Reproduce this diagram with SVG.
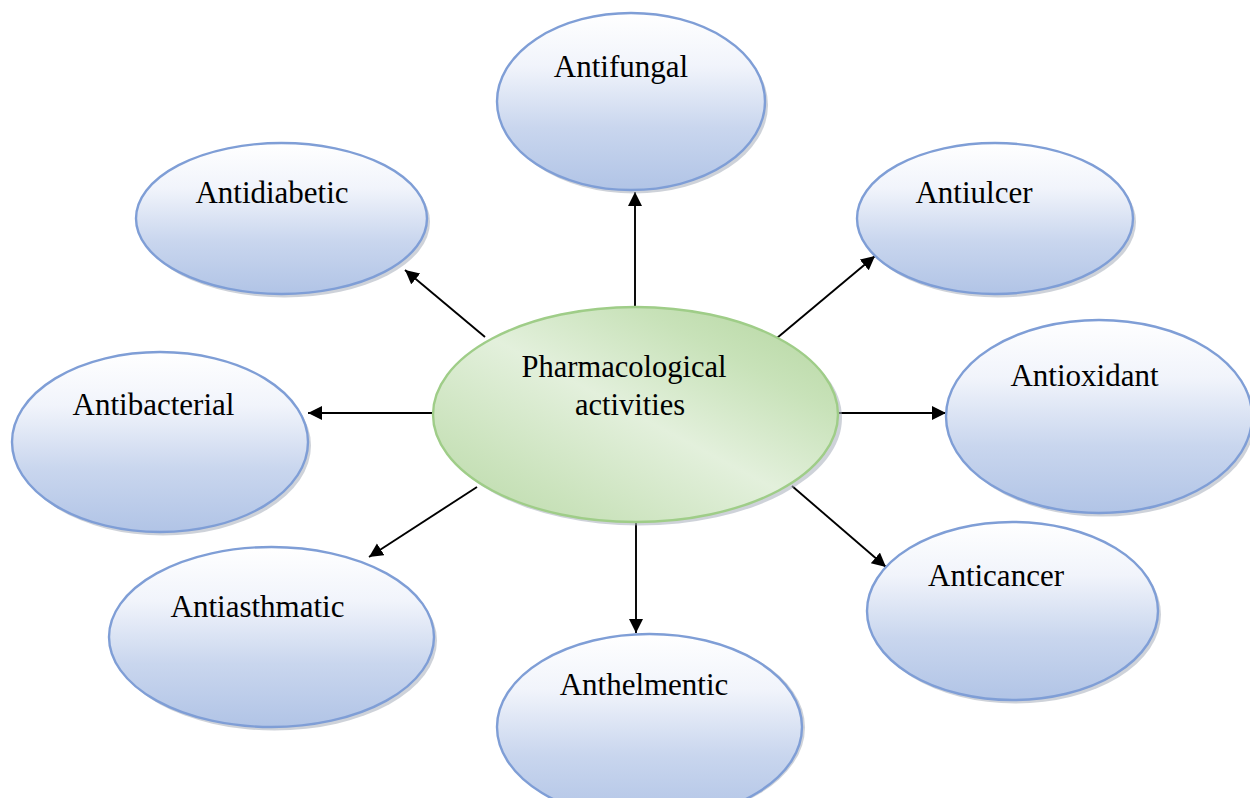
<svg xmlns="http://www.w3.org/2000/svg" width="1250" height="798" viewBox="0 0 1250 798">
<style>
.node{fill:url(#blue);stroke:#7f9ed6;stroke-width:2.4}
.center{fill:url(#green);stroke:#9fcd88;stroke-width:2.4}
.sh{fill:#a6adb9;opacity:0.55}
.lbl{font-family:"Liberation Serif","Times New Roman",serif;font-size:31px;fill:#000;text-anchor:middle}
.clbl{font-family:"Liberation Serif","Times New Roman",serif;font-size:30.5px;fill:#000;text-anchor:middle}
.conn line{stroke:#000;stroke-width:1.9;marker-end:url(#arr)}
</style>
<defs>
<linearGradient id="blue" x1="0" y1="0" x2="0" y2="1">
<stop offset="0" stop-color="#ffffff"/>
<stop offset="0.3" stop-color="#f1f4fb"/>
<stop offset="0.65" stop-color="#c9d6ee"/>
<stop offset="1" stop-color="#b1c4e6"/>
</linearGradient>
<linearGradient id="green" x1="1" y1="0" x2="0" y2="1">
<stop offset="0" stop-color="#b3d59e"/>
<stop offset="0.25" stop-color="#c8e2b9"/>
<stop offset="0.5" stop-color="#e3f0dc"/>
<stop offset="0.78" stop-color="#cbe3bd"/>
<stop offset="1" stop-color="#b9d9a7"/>
</linearGradient>
<marker id="arr" markerUnits="userSpaceOnUse" markerWidth="16" markerHeight="16" refX="14" refY="7" orient="auto">
<path d="M0,0 L14,7 L0,14 z" fill="#000"/>
</marker>
</defs>

<g id="connectors" class="conn">
<line x1="635" y1="308" x2="635" y2="192"/>
<line x1="485" y1="337" x2="405" y2="270"/>
<line x1="777" y1="338" x2="875" y2="256"/>
<line x1="434" y1="413" x2="308" y2="413"/>
<line x1="838" y1="413" x2="946" y2="413"/>
<line x1="477" y1="487" x2="369" y2="557"/>
<line x1="636" y1="522" x2="636" y2="633"/>
<line x1="792" y1="486" x2="886" y2="567"/>
</g>

<g id="center">
<ellipse class="sh" cx="639" cy="418" rx="203" ry="107.5"/>
<ellipse class="center" cx="635.5" cy="414.5" rx="202.5" ry="107.5"/>
<text class="clbl" x="624" y="377">Pharmacological</text>
<text class="clbl" x="630" y="415">activities</text>
</g>

<g id="antifungal">
<ellipse class="sh" cx="634" cy="105" rx="134" ry="88.5"/>
<ellipse class="node" cx="631" cy="101.5" rx="134" ry="88.5"/>
<text class="lbl" x="621" y="77">Antifungal</text>
</g>

<g id="antidiabetic">
<ellipse class="sh" cx="284.5" cy="222" rx="145.5" ry="75.5"/>
<ellipse class="node" cx="281.5" cy="218.5" rx="145.5" ry="75.5"/>
<text class="lbl" x="272" y="203">Antidiabetic</text>
</g>

<g id="antiulcer">
<ellipse class="sh" cx="998" cy="222" rx="138" ry="75.5"/>
<ellipse class="node" cx="995" cy="218.5" rx="138" ry="75.5"/>
<text class="lbl" x="974" y="203">Antiulcer</text>
</g>

<g id="antioxidant">
<ellipse class="sh" cx="1102" cy="420" rx="153" ry="96.5"/>
<ellipse class="node" cx="1099" cy="416.5" rx="153" ry="96.5"/>
<text class="lbl" x="1084.5" y="386">Antioxidant</text>
</g>

<g id="antibacterial">
<ellipse class="sh" cx="163" cy="445.5" rx="148" ry="90"/>
<ellipse class="node" cx="160" cy="442" rx="148" ry="90"/>
<text class="lbl" x="153.5" y="415">Antibacterial</text>
</g>

<g id="antiasthmatic">
<ellipse class="sh" cx="274.5" cy="640.5" rx="162.5" ry="90"/>
<ellipse class="node" cx="271.5" cy="637" rx="162.5" ry="90"/>
<text class="lbl" x="257.5" y="617">Antiasthmatic</text>
</g>

<g id="anthelmentic">
<ellipse class="sh" cx="652.5" cy="727.5" rx="152.5" ry="93"/>
<ellipse class="node" cx="649.5" cy="727" rx="152.5" ry="93"/>
<text class="lbl" x="644" y="695">Anthelmentic</text>
</g>

<g id="anticancer">
<ellipse class="sh" cx="1015.5" cy="614.5" rx="145.5" ry="89"/>
<ellipse class="node" cx="1012.5" cy="611" rx="145.5" ry="89"/>
<text class="lbl" x="996" y="586">Anticancer</text>
</g>
</svg>
